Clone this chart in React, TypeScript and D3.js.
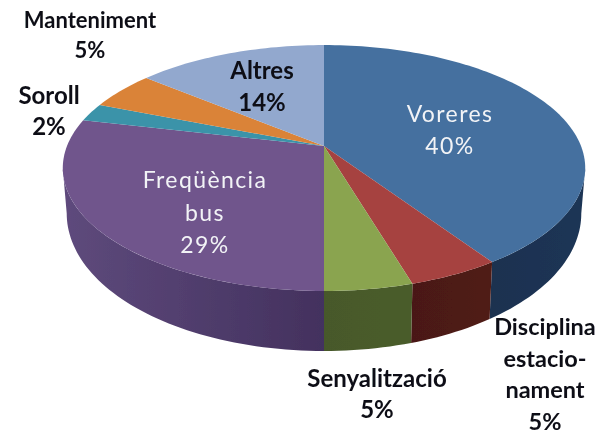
import * as d3 from 'd3';

const categories = ['Voreres', 'Disciplina estacionament', 'Senyalització', 'Freqüència bus', 'Soroll', 'Manteniment', 'Altres'];
// slice sizes as measured on the disc (the printed labels are the rounded ones)
const shares = [40.6, 4.8, 4.6, 28.6, 2.4, 5, 14];
const topColors = ['#44709f', '#a64340', '#8aa44f', '#6f558c', '#3a93a9', '#da8339', '#92a8ce'];
const sideDark = ['#1a3150', '#4a1915', '#47592a', '#43315e', '#1d4a55', '#7a4718', '#4a5a78'];
const sideLight = ['#1d3555', '#501b17', '#4a5c2b', '#5e4a7c', '#1d4a55', '#7a4718', '#4a5a78'];

const labelLines = [
  ['Voreres', '40%'],
  ['Disciplina', 'estacio-', 'nament', '5%'],
  ['Senyalització', '5%'],
  ['Freqüència', 'bus', '29%'],
  ['Soroll', '2%'],
  ['Manteniment', '5%'],
  ['Altres', '14%'],
];
const labelX = [450, 545, 377, 205, 49, 90, 262];
const labelY = [122, 335, 387, 188, 104, 28, 79];
const labelStep = [32, 31.5, 31, 32.5, 31, 30, 32];
const labelSize = [23, 23.5, 24, 23, 24, 22, 24];
const labelWhite = [true, false, false, true, false, false, false];

const width = 601;
const height = 435;
const apexX = 324;
const apexY = 146;
const depth = 60;
const persp = 0.179; // how much the back of the disc shrinks
const scaleX = 257;
const scaleY = 119;
const taper = 0.985; // lower rim is a little narrower

// unit circle -> tilted disc with perspective
const project = (angle: number): [number, number] => {
  const d = 1 + persp * Math.cos(angle);
  return [apexX + (scaleX * Math.sin(angle)) / d, apexY - (scaleY * Math.cos(angle)) / d];
};

const projectLower = (angle: number): [number, number] => {
  const [px, py] = project(angle);
  return [apexX + (px - apexX) * taper, py + depth * (0.7 - 0.3 * Math.cos(angle))];
};

const sideStart = Math.acos(-persp);
const sideEnd = 2 * Math.PI - sideStart;

const arcs = d3.pie<number>().sort(null).value(d => d)(shares);

const sweep = (a0: number, a1: number) => {
  const n = Math.max(2, Math.ceil((a1 - a0) * 40));
  return d3.range(n + 1).map(i => a0 + ((a1 - a0) * i) / n);
};
const line = d3.line();

export default function App() {
  return (
    <svg width={width} height={height} style={{ position: 'absolute', left: 0, top: 0, background: '#fff' }}>
      <defs>
        <filter id="soft" x="-5%" y="-5%" width="110%" height="110%">
          <feGaussianBlur stdDeviation="0.45" />
        </filter>
        {arcs.map((a, i) => {
          const from = Math.max(a.startAngle, sideStart);
          const to = Math.min(a.endAngle, sideEnd);
          if (to <= from) return null;
          const xs = d3.extent(sweep(from, to), t => project(t)[0]) as [number, number];
          const leftSide = xs[1] <= apexX + 1;
          return (
            <linearGradient key={i} id={`side${i}`} gradientUnits="userSpaceOnUse" x1={xs[0]} x2={xs[1]} y1={0} y2={0}>
              <stop offset="0%" stopColor={leftSide ? sideLight[i] : sideDark[i]} />
              <stop offset="100%" stopColor={leftSide ? sideDark[i] : sideLight[i]} />
            </linearGradient>
          );
        })}
      </defs>
      <g filter="url(#soft)">
        {/* side wall, front half only */}
        {arcs.map((a, i) => {
          const from = Math.max(a.startAngle, sideStart);
          const to = Math.min(a.endAngle, sideEnd);
          if (to <= from) return null;
          const ts = sweep(from, to);
          const pts = [...ts.map(project), ...ts.slice().reverse().map(projectLower)];
          return <path key={i} d={`${line(pts)}Z`} fill={`url(#side${i})`} />;
        })}
        {/* top face */}
        {arcs.map((a, i) => (
          <path
            key={categories[i]}
            d={`${line([[apexX, apexY], ...sweep(a.startAngle, a.endAngle).map(project)])}Z`}
            fill={topColors[i]}
          />
        ))}
        {labelLines.map((lines, i) => (
          <text
            key={i}
            textAnchor="middle"
            fontFamily="Lato, 'Open Sans', sans-serif"
            fontWeight={labelWhite[i] ? 400 : 700}
            fontSize={labelSize[i]}
            letterSpacing={labelWhite[i] ? 1.4 : 0}
            fill={labelWhite[i] ? '#f2f3f6' : '#0e1016'}
          >
            {lines.map((t, j) => (
              <tspan key={j} x={labelX[i]} y={labelY[i] + j * labelStep[i]}>
                {t}
              </tspan>
            ))}
          </text>
        ))}
      </g>
    </svg>
  );
}
